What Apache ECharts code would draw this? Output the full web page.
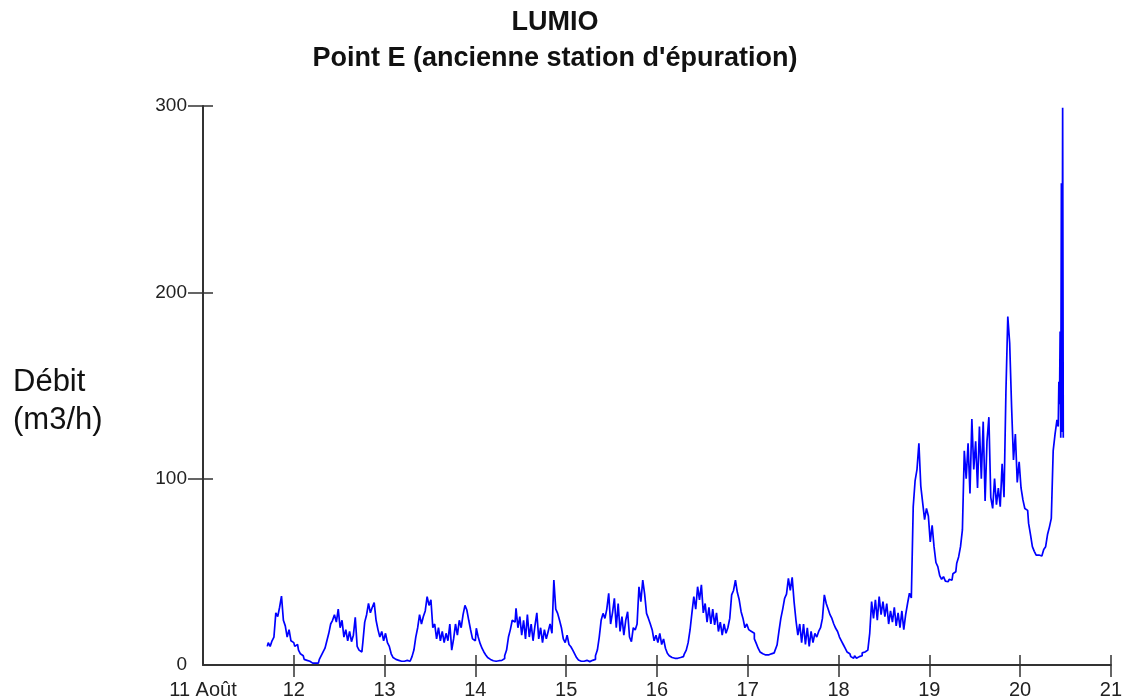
<!DOCTYPE html>
<html>
<head>
<meta charset="utf-8">
<script src="https://cdn.jsdelivr.net/npm/echarts@6/dist/echarts.min.js"></script>
<style>
html,body{margin:0;padding:0;background:#fff;}
#chart{width:1125px;height:700px;}
</style>
</head>
<body>
<div id="chart"></div>
<script>
// Débit (m3/h), half-hourly readings per day (Août)
const aug11 = [10, 12, 10, 13, 15, 28, 26, 31, 37, 24, 21, 15, 19, 13]; // from 17:00
const aug12 = [12, 10, 11, 8, 6, 5, 3, 2.5, 2, 1.5, 1, 1, 1.5, 1, 3, 5, 7, 9, 13, 17, 22, 24, 27, 23, 30, 20, 24, 15, 19, 13, 18, 12.5, 16, 25.6, 10, 8, 7, 12, 23, 27, 33, 28, 31, 33.5, 24, 19, 15, 18];
const aug13 = [13, 17, 12, 10, 6, 4, 3, 2.5, 2, 2, 2, 2, 2.5, 2, 3, 4.5, 8, 15, 20, 27, 22, 26, 29, 36.7, 32, 35, 20, 22, 14, 20, 13, 18, 12, 17, 13, 22, 8, 14, 22, 16, 24, 20, 27, 32, 29.5, 24, 18.8, 14];
const aug14 = [13, 19.7, 15, 11.6, 9, 7, 5.4, 4, 3, 2.3, 2, 2, 2.3, 2, 2.5, 3.5, 5, 8, 15, 19, 24, 23, 30.4, 20, 26, 16, 24, 14, 27, 15, 22, 13, 21, 28, 14, 20, 12, 19, 14, 18, 22, 17, 45.6, 30, 27.7, 24, 20, 14];
const aug15 = [12, 16, 11, 9.8, 8, 6, 4, 2.7, 2, 2, 1.8, 2.5, 1.8, 2, 2.5, 3, 5, 8, 15, 24, 27.7, 25, 30, 38.5, 22, 28, 35.8, 20, 33, 18, 26, 16, 24, 28.6, 15, 12.5, 20, 18.8, 22, 42, 34, 45.6, 38, 27.7, 25, 22, 18.8, 13];
const aug16 = [16, 12, 17, 11, 14, 9, 6.3, 5, 4, 3.6, 4, 3.6, 4, 4, 4.5, 6, 8, 12, 18.8, 28, 36.7, 30, 42, 35, 43, 28, 33, 23, 31, 22, 30, 21.5, 28, 18, 23, 16, 22, 17, 20, 25, 37.6, 40, 45.6, 39, 35, 28.6, 25, 20];
const aug17 = [22, 19, 18, 17, 14, 11.6, 9, 7, 6, 5.4, 6, 5.4, 6, 5.5, 6.5, 8, 10.7, 18, 25, 30, 35.8, 38, 46.5, 40, 47, 34, 24, 16, 22, 12, 22, 11, 20, 10, 18, 12, 17, 15, 18, 20, 25, 37.6, 33, 30, 27, 25, 22, 19.7];
const aug18 = [18, 15, 13, 11, 9, 7, 6, 4.5, 3.6, 5, 3.6, 4.5, 5, 6.5, 7, 8, 9, 17, 34, 25, 35, 24, 36.7, 27, 34, 26, 33, 22, 29, 23, 31, 21, 28, 20, 29, 19, 27, 33, 38.5, 36, 85, 99, 105, 119, 96, 87, 78, 84];
const aug19 = [80, 66, 75, 63.5, 55, 52.8, 48, 46, 47.4, 45, 44.7, 46, 45.5, 49, 50, 54.6, 58, 63.5, 72.5, 115, 100, 119, 92, 132, 105, 120, 95, 128, 100, 130.6, 88, 120, 133, 90, 84, 100, 86, 95, 85, 108, 90, 146, 187, 172.7, 138.7, 110, 124, 98];
const aug20 = [109, 95, 88.6, 84, 83, 76, 70, 63.5, 61, 59, 59, 58.5, 59, 62, 63.5, 70, 74, 78.7, 115, 124]; // 0:00 - 9:30
const aug20End = [131.5, 128, 152, 140, 179, 122, 258.5, 125, 299, 122]; // 10-min readings from 10:00

const xTickDays = [12, 13, 14, 15, 16, 17, 18, 19, 20, 21];
const yTickValues = [100, 200, 300];

const data = [];
function addSeg(day, startHour, stepMin, values) {
  values.forEach((v, i) => data.push([day + (startHour + i * stepMin / 60) / 24, v]));
}
addSeg(11, 17, 30, aug11);
addSeg(12, 0, 30, aug12);
addSeg(13, 0, 30, aug13);
addSeg(14, 0, 30, aug14);
addSeg(15, 0, 30, aug15);
addSeg(16, 0, 30, aug16);
addSeg(17, 0, 30, aug17);
addSeg(18, 0, 30, aug18);
addSeg(19, 0, 30, aug19);
addSeg(20, 0, 30, aug20);
addSeg(20, 10, 10, aug20End);

const FONT = 'Liberation Sans, Arial, sans-serif';
const chart = echarts.init(document.getElementById('chart'), null, {renderer: 'canvas'});
chart.setOption({
  animation: false,
  backgroundColor: '#fff',
  title: [
    {text: 'LUMIO', left: 550, textAlign: 'center', top: 4,
     textStyle: {fontFamily: FONT, fontSize: 27, fontWeight: 'bold', color: '#111'}},
    {text: "Point E (ancienne station d'épuration)", left: 550, textAlign: 'center', top: 40,
     textStyle: {fontFamily: FONT, fontSize: 27, fontWeight: 'bold', color: '#111'}},
    {text: 'Débit\n(m3/h)', left: 8, top: 358,
     textStyle: {fontFamily: FONT, fontSize: 31, fontWeight: 'normal', color: '#111', lineHeight: 38}}
  ],
  grid: {left: 203, right: 11, top: 106, bottom: 35, containLabel: false},
  xAxis: [
    {type: 'value', min: 11, max: 21, interval: 1,
     axisLine: {show: true, lineStyle: {color: '#333', width: 2}},
     axisTick: {show: true, inside: false, length: 12, customValues: xTickDays, lineStyle: {color: '#333', width: 1.5}},
     axisLabel: {show: true, margin: 15, fontFamily: FONT, fontSize: 20, color: '#222',
       formatter: v => v === 11 ? '11 Août' : String(v)},
     splitLine: {show: false}},
    {type: 'value', min: 11, max: 21, interval: 1, position: 'bottom',
     axisLine: {show: false},
     axisTick: {show: true, inside: true, length: 10, customValues: xTickDays, lineStyle: {color: '#333', width: 1.5}},
     axisLabel: {show: false}, splitLine: {show: false}}
  ],
  yAxis: [
    {type: 'value', min: 0, max: 300, interval: 100,
     axisLine: {show: true, lineStyle: {color: '#333', width: 2}},
     axisTick: {show: true, inside: false, length: 15, customValues: yTickValues, lineStyle: {color: '#333', width: 1.5}},
     axisLabel: {show: true, margin: 16, fontFamily: FONT, fontSize: 19, color: '#222'},
     splitLine: {show: false}},
    {type: 'value', min: 0, max: 300, interval: 100, position: 'left',
     axisLine: {show: false},
     axisTick: {show: true, inside: true, length: 10, customValues: yTickValues, lineStyle: {color: '#333', width: 1.5}},
     axisLabel: {show: false}, splitLine: {show: false}}
  ],
  series: [{
    type: 'line', xAxisIndex: 0, yAxisIndex: 0,
    data: data, showSymbol: false, symbol: 'none', step: 'middle',
    lineStyle: {color: '#0000ff', width: 1.7},
    itemStyle: {color: '#0000ff'}
  }]
});
</script>
</body>
</html>
